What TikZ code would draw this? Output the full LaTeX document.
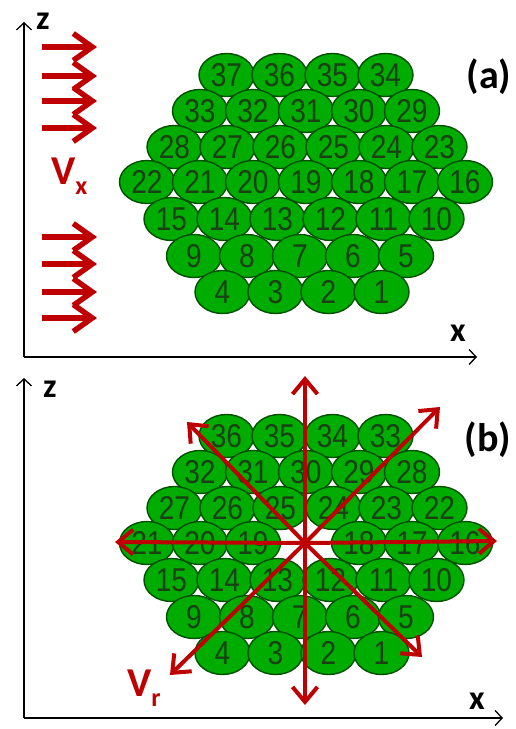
\documentclass[tikz,border=0pt]{standalone}
\usepackage{fontspec}
\setmainfont{Liberation Sans}
\newfontfamily\labfont{Carlito}
\usepackage{graphicx}
\usetikzlibrary{shapes.geometric,arrows.meta}
\definecolor{cellgreen}{RGB}{0,172,0}
\definecolor{celledge}{RGB}{0,80,0}
\definecolor{celltext}{RGB}{25,65,20}
\definecolor{flowred}{RGB}{190,0,0}
\newcommand{\cellnum}[1]{\raisebox{-2pt}{\scalebox{.85}[1]{\fontsize{33}{33}\selectfont #1}}}

\begin{document}
\begin{tikzpicture}[x=1pt, y=-1pt,
    cell/.style={ellipse, draw=celledge, line width=1.4pt, fill=cellgreen, minimum width=55pt, minimum height=43pt, inner sep=0pt, text=celltext},
    axis/.style={line width=1.5pt, -{Straight Barb[length=7pt,width=15pt,line width=1.3pt]}},
    flow/.style={flowred, line width=5.5pt, -{Straight Barb[length=19pt,width=27pt]}},
    radial/.style={flowred, line width=4pt, -{Straight Barb[length=15pt,width=25pt]}},
    lab/.style={font=\labfont\bfseries\fontsize{34}{34}\selectfont, inner sep=0pt}]
    \useasboundingbox (0,0) rectangle (515,729);

    % (a) uniform flow
    \foreach \row/\y/\n/\first/\cx in {1/75/4/37/306, 2/111/5/33/306, 3/147/6/28/307, 4/182/7/22/306, 5/219/6/15/304, 6/256/5/9/300, 7/292/4/4/302}
        \foreach \i in {1,...,\n} {
            \pgfmathtruncatemacro\lab{\first-\i+1}
            \node[cell] (a\lab) at ({\cx+(\i-(\n+1)/2)*53},\y) {\cellnum{\lab}};
        }
    \coordinate (ao) at (24,357);
    \coordinate (az) at (24,22);
    \coordinate (ax) at (477,357);
    \draw[axis] (ao) -- (az);
    \draw[axis] (ao) -- (ax);
    \node[lab] (za) at (43,21) {z};
    \node[lab] (xa) at (458,333) {x};
    \node[lab, font=\labfont\bfseries\fontsize{40}{40}\selectfont] (taga) at (489,77) {(a)};
    \foreach \y in {47,76,101,128,237,264,292,318}
        \draw[flow] (42,\y) -- (97,\y);
    \node[lab, text=flowred, anchor=base west] (vx) at (51,184) {\fontsize{41}{41}\selectfont V\raisebox{-10pt}{\fontsize{26}{26}\selectfont x}};

    % (b) radial flow
    \foreach \row/\y/\n/\first/\cx in {1/75/4/37/306, 2/111/5/33/306, 3/147/6/28/307, 4/182/7/22/306, 5/219/6/15/304, 6/256/5/9/300, 7/292/4/4/302}
        \foreach \i in {1,...,\n} {
            \pgfmathtruncatemacro\lab{\first-\i+1}
            \ifnum\lab>19 \pgfmathtruncatemacro\lab{\lab-1}\fi
            \ifnum\lab=19 \ifnum\i=4 \def\lab{0}\fi\fi
            \ifnum\lab>0
                \node[cell] (b\lab) at ({\cx+(\i-(\n+1)/2)*53},\y+361) {\cellnum{\lab}};
            \fi
        }
    \coordinate (bo) at (24,718);
    \coordinate (bz) at (24,378);
    \coordinate (bx) at (503,718);
    \draw[axis] (bo) -- (bz);
    \draw[axis] (bo) -- (bx);
    \node[lab] (zb) at (50,389) {z};
    \node[lab] (xb) at (477,701) {x};
    \node[lab, font=\labfont\bfseries\fontsize{40}{40}\selectfont] (tagb) at (488,440) {(b)};

    \coordinate (org) at (305,543);
    \coordinate (tipN) at (305,376);
    \coordinate (tipS) at (305,705);
    \coordinate (tipW) at (115,542);
    \coordinate (tipE) at (497,541);
    \coordinate (tipNW) at (187,422);
    \coordinate (tipNE) at (440,407);
    \coordinate (tipSW) at (170,675);
    \coordinate (tipSE) at (422,657);
    \foreach \t in {N,S,W,E,NW,NE,SW,SE}
        \draw[radial] (org) -- (tip\t);
    \node[lab, text=flowred, anchor=base west] (vr) at (127,696) {\fontsize{41}{41}\selectfont V\raisebox{-10pt}{\fontsize{26}{26}\selectfont r}};
\end{tikzpicture}
\end{document}
